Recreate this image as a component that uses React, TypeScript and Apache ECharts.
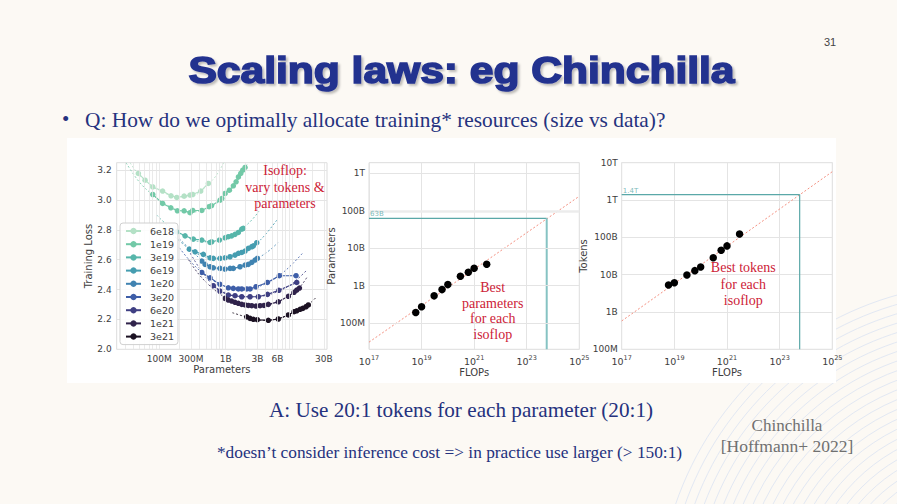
import { useEffect, useRef } from 'react';
import * as echarts from 'echarts';

const L = Math.log10;

// ---------- Left panel: isoflop curves ----------
const computeBudgets = ['6e18', '1e19', '3e19', '6e19', '1e20', '3e20', '6e20', '1e21', '3e21'];
const isoColors = ['#b4e1c6', '#72c9a7', '#57b6aa', '#459db0', '#4083b1', '#3e5ea8', '#3f3f83', '#30234b', '#1b1122'];

// [parameters (millions), training loss]
const iso6e18 = [[48.3, 3.178], [61, 3.133], [79.6, 3.088], [112, 3.06], [150, 3.028], [183, 3.017], [236, 3.026], [290, 3.033], [318, 3.037], [420, 3.06], [547, 3.111]];
const iso1e19 = [[79.6, 3.037], [112, 2.977], [149, 2.948], [187, 2.928], [236, 2.928], [290, 2.915], [318, 2.93], [436, 2.93], [561, 2.955], [610, 2.962], [822, 2.999], [871, 3.01], [977, 3.044], [1135, 3.066], [1303, 3.095], [1432, 3.122], [1552, 3.155], [1683, 3.178], [1803, 3.2], [1954, 3.218]];
const iso3e19 = [[183, 2.787], [244, 2.76], [325, 2.738], [436, 2.732], [581, 2.716], [615, 2.72], [802, 2.732], [975, 2.747], [1094, 2.754], [1230, 2.76], [1380, 2.77], [1549, 2.783], [1742, 2.805], [1841, 2.81]];
const iso6e19 = [[283, 2.671], [345, 2.653], [460, 2.636], [581, 2.613], [650, 2.609], [820, 2.609], [975, 2.613], [1161, 2.62], [1380, 2.631], [1549, 2.643], [1742, 2.649], [1954, 2.658], [2188, 2.676], [2466, 2.687], [2606, 2.693], [2931, 2.714]];
const iso1e20 = [[436, 2.591], [488, 2.569], [581, 2.553], [650, 2.546], [820, 2.542], [975, 2.537], [1161, 2.542], [1300, 2.542], [1641, 2.553], [1954, 2.564], [2188, 2.569], [2466, 2.582], [2761, 2.598], [2992, 2.609]];
const iso3e20 = [[436, 2.515], [581, 2.479], [820, 2.435], [1094, 2.412], [1300, 2.408], [1549, 2.404], [1742, 2.404], [2070, 2.404], [2323, 2.404], [2858, 2.419], [4236, 2.448], [6412, 2.493], [11460, 2.493]];
const iso6e20 = [[650, 2.426], [820, 2.39], [1094, 2.363], [1380, 2.359], [1742, 2.352], [2323, 2.352], [3097, 2.352], [4266, 2.368], [6310, 2.395], [11722, 2.448]];
const iso1e21 = [[975, 2.341], [1094, 2.33], [1230, 2.323], [1380, 2.315], [1549, 2.308], [1742, 2.301], [1954, 2.297], [2188, 2.294], [2466, 2.292], [2858, 2.29], [3289, 2.292], [3776, 2.294], [4385, 2.301], [6194, 2.318], [8770, 2.355], [10690, 2.382], [11722, 2.397], [12880, 2.41]];
const iso3e21 = [[2070, 2.218], [2323, 2.207], [2606, 2.201], [2992, 2.198], [4385, 2.194], [6194, 2.203], [8770, 2.23], [10690, 2.252], [11722, 2.258], [13150, 2.268], [14450, 2.274], [16180, 2.285], [17540, 2.297]];

// dashed parabola fits
const fit6e18 = [[36.3, 3.249], [48.3, 3.175], [79.4, 3.09], [126, 3.042], [200, 3.02], [316, 3.026], [420, 3.058], [550, 3.108], [708, 3.16], [933, 3.249]];
const fit1e19 = [[31.6, 3.249], [50.1, 3.12], [79.4, 3.035], [126, 2.97], [200, 2.93], [316, 2.92], [501, 2.94], [794, 2.99], [1259, 3.08], [1995, 3.22], [2138, 3.249]];
const fit3e19 = [[91.4, 2.899], [126, 2.84], [183, 2.787], [282, 2.745], [447, 2.72], [708, 2.722], [1122, 2.75], [1738, 2.805], [2512, 2.87], [3162, 2.925]];
const fit6e19 = [[158, 2.77], [282, 2.672], [447, 2.625], [708, 2.607], [1122, 2.618], [1778, 2.65], [2818, 2.705], [3981, 2.77], [5888, 2.866]];
const fit1e20 = [[200, 2.74], [316, 2.655], [501, 2.575], [794, 2.541], [1259, 2.541], [1995, 2.568], [3162, 2.615], [4467, 2.66], [6166, 2.716]];
const fit3e20 = [[200, 2.68], [274, 2.605], [436, 2.515], [708, 2.45], [1122, 2.415], [1778, 2.403], [2818, 2.415], [4467, 2.45], [7079, 2.51], [10000, 2.57], [14791, 2.65]];
const fit6e20 = [[275, 2.665], [407, 2.54], [631, 2.435], [1000, 2.378], [1585, 2.355], [2512, 2.352], [3981, 2.36], [6310, 2.39], [10000, 2.44], [16596, 2.53]];
const fit1e21 = [[275, 2.6], [398, 2.5], [631, 2.41], [1000, 2.345], [1585, 2.305], [2818, 2.29], [5012, 2.305], [7943, 2.345], [12589, 2.41], [16596, 2.48]];
const fit3e21 = [[1259, 2.245], [2070, 2.215], [2818, 2.198], [3981, 2.194], [6310, 2.205], [10000, 2.245], [14125, 2.28], [17540, 2.3], [23442, 2.352]];

const isoCurves = [iso6e18, iso1e19, iso3e19, iso6e19, iso1e20, iso3e20, iso6e20, iso1e21, iso3e21];
const isoFits = [fit6e18, fit1e19, fit3e19, fit6e19, fit1e20, fit3e20, fit6e20, fit1e21, fit3e21];

const sizeTickValues = [1e8, 3e8, 1e9, 3e9, 6e9, 3e10];
const sizeTickLabels = ['100M', '300M', '1B', '3B', '6B', '30B'];
const sizeMin = 2.28e7;
const sizeMax = 3.35e10;
const lossMin = 2.0;
const lossMax = 3.25;

// ---------- Middle / right panels ----------
const flopBudgets = [6e18, 1e19, 3e19, 6e19, 1e20, 3e20, 6e20, 1e21, 3e21];
const optimalParams = [1.9e8, 2.7e8, 5.3e8, 7.8e8, 1.06e9, 1.78e9, 2.28e9, 2.9e9, 3.7e9];
const optimalTokens = [5.3e9, 6.1e9, 9.8e9, 1.28e10, 1.6e10, 2.85e10, 4.5e10, 5.9e10, 1.23e11];
const paramFitLine = [[1e17, 3.06e7], [1e25, 2.45e11]];
const tokenFitLine = [[1e17, 5.75e8], [1e25, 5.75e12]];
const gopherFlops = 5.76e23;
const chinchillaParams = 6.3e10;
const chinchillaTokens = 1.4e12;
const flopTickExps = [17, 19, 21, 23, 25];
const paramTickValues = [1e8, 1e9, 1e10, 1e11, 1e12];
const paramTickLabels = ['100M', '1B', '10B', '100B', '1T'];
const tokenTickValues = [1e8, 1e9, 1e10, 1e11, 1e12, 1e13];
const tokenTickLabels = ['100M', '1B', '10B', '100B', '1T', '10T'];
const paramAxisMin = 10 ** 7.295;
const paramAxisMax = 10 ** 12.286;

const SANS = 'DejaVu Sans';
const SERIF = 'Liberation Serif';
const AXIS_TEXT = '#3d3d3d';
const GRID = '#e4e4e4';
const NAVY = '#25327e';
const RED = '#cd2237';
const TEAL = '#5aa8a8';

function lookup(vals: number[], labels: string[]) {
  return (v: number) => {
    let best = 0;
    let bd = Infinity;
    vals.forEach((x, i) => {
      const d = Math.abs(L(x) - v);
      if (d < bd) { bd = d; best = i; }
    });
    return bd < 0.01 ? labels[best] : '';
  };
}

const supRich = {
  b: { fontFamily: SANS, fontSize: 9.5, color: AXIS_TEXT, verticalAlign: 'bottom' },
  s: { fontFamily: SANS, fontSize: 6.5, color: AXIS_TEXT, verticalAlign: 'bottom', padding: [0, 0, 5, 0] },
};

function buildOption() {
  const xMinL = L(sizeMin);
  const xMaxL = L(sizeMax);
  const minorGrid: number[] = [];
  for (let d = 7; d <= 10; d++) {
    for (let k = 1; k <= 9; k++) {
      const v = L(k * 10 ** d);
      if (v > xMinL + 0.004 && v < xMaxL - 0.004) minorGrid.push(v);
    }
  }
  const toPts = (arr: number[][]) => arr.map(([p, l]) => [L(p * 1e6), l]);
  const logPts = (arr: number[][]) => arr.map(([a, b]) => [L(a), L(b)]);

  const axisLabelBase = { fontFamily: SANS, fontSize: 9, color: AXIS_TEXT };
  const nameStyle = { fontFamily: SANS, fontSize: 10, color: AXIS_TEXT };

  const gridBase = { show: true, backgroundColor: '#ffffff', borderColor: '#dcdcdc', borderWidth: 1 };

  const series: any[] = [];

  // left gridlines
  series.push({
    type: 'line', xAxisIndex: 0, yAxisIndex: 0, data: [], z: 1, silent: true,
    markLine: {
      silent: true, symbol: ['none', 'none'], label: { show: false }, animation: false,
      lineStyle: { color: GRID, width: 0.8, type: 'solid' },
      data: minorGrid.map((v) => ({ xAxis: v })),
    },
  });
  isoFits.forEach((f, i) => {
    series.push({
      name: computeBudgets[i] + ' fit', type: 'line', xAxisIndex: 0, yAxisIndex: 0,
      data: toPts(f), smooth: 0.4, showSymbol: false, silent: true, z: 2,
      lineStyle: { color: isoColors[i], width: 0.9, type: [2, 2], opacity: 0.9 },
    });
  });
  isoCurves.forEach((c, i) => {
    series.push({
      name: computeBudgets[i], type: 'line', xAxisIndex: 0, yAxisIndex: 0,
      data: toPts(c), symbol: 'circle', symbolSize: 5.5, z: 3,
      itemStyle: { color: isoColors[i], opacity: 1 },
      lineStyle: { color: isoColors[i], width: 1.1 },
    });
  });

  // middle gridlines (y)
  series.push({
    type: 'line', xAxisIndex: 1, yAxisIndex: 1, data: [], z: 1, silent: true,
    markLine: {
      silent: true, symbol: ['none', 'none'], label: { show: false }, animation: false,
      lineStyle: { color: GRID, width: 1, type: 'solid' },
      data: paramTickValues.map((v) => ({ yAxis: L(v), lineStyle: v === 1e11 ? { width: 2.5, color: '#ececec' } : undefined })),
    },
  });
  const panels = [
    { idx: 1, fit: paramFitLine, best: optimalParams, target: chinchillaParams, label: '63B', yMin: L(paramAxisMin), vWidth: 2, vColor: '#86c3c3' },
    { idx: 2, fit: tokenFitLine, best: optimalTokens, target: chinchillaTokens, label: '1.4T', yMin: L(tokenTickValues[0]), vWidth: 1.2, vColor: TEAL },
  ];
  panels.forEach((p) => {
    series.push({
      type: 'line', xAxisIndex: p.idx, yAxisIndex: p.idx, data: logPts(p.fit), showSymbol: false, silent: true, z: 2,
      lineStyle: { color: '#f39080', width: 1, type: [2, 2] },
    });
    series.push({
      type: 'line', xAxisIndex: p.idx, yAxisIndex: p.idx, showSymbol: false, silent: true, z: 2,
      data: [[flopTickExps[0], L(p.target)], [L(gopherFlops), L(p.target)]],
      lineStyle: { color: TEAL, width: 1.3 },
    });
    series.push({
      type: 'line', xAxisIndex: p.idx, yAxisIndex: p.idx, showSymbol: false, silent: true, z: 2,
      data: [[L(gopherFlops), L(p.target)], [L(gopherFlops), p.yMin]],
      lineStyle: { color: p.vColor, width: p.vWidth },
    });
    series.push({
      type: 'scatter', xAxisIndex: p.idx, yAxisIndex: p.idx, silent: true, z: 6,
      data: [[flopTickExps[0], L(p.target)]], symbolSize: 0.1, itemStyle: { color: 'rgba(0,0,0,0)' },
      label: { show: true, formatter: p.label, position: 'right', distance: 1, offset: [0, -4], fontFamily: SANS, fontSize: 7, color: TEAL },
    });
    series.push({
      type: 'scatter', xAxisIndex: p.idx, yAxisIndex: p.idx, z: 5,
      data: flopBudgets.map((f, i) => [L(f), L(p.best[i])]), symbolSize: 7.5,
      itemStyle: { color: '#000000', opacity: 1 },
    });
  });

  const flopAxis = (gi: number) => ({
    type: 'value', gridIndex: gi, min: 17, max: 25, interval: 2,
    axisLine: { show: false }, axisTick: { show: false },
    splitLine: { show: true, lineStyle: { color: GRID, width: 1 } },
    axisLabel: { margin: 5, formatter: (v: number) => `{b|10}{s|${Math.round(v)}}`, rich: supRich },
    name: 'FLOPs', nameLocation: 'middle', nameGap: 15, nameTextStyle: nameStyle,
  });

  const arcs: any[] = [];
  for (let r = 120; r <= 330; r += 9) {
    arcs.push({ type: 'circle', silent: true, z: -101, shape: { cx: 985, cy: 610, r }, style: { fill: 'none', stroke: '#e2e8f3', lineWidth: 1 } });
  }

  const txt = (text: string, x: number, y: number, style: any, scaleX = 1) => ({
    type: 'text', x, y, scaleX, silent: true, z: 50,
    style: { text, verticalAlign: 'middle', ...style },
  });

  return {
    animation: false,
    grid: [
      { ...gridBase, left: 116.7, top: 162.7, width: 210.3, height: 186.6 },
      { ...gridBase, left: 369, top: 162.7, width: 210.3, height: 186.6 },
      { ...gridBase, left: 621.7, top: 162.7, width: 210.6, height: 186.6 },
    ],
    xAxis: [
      {
        type: 'value', gridIndex: 0, min: xMinL, max: xMaxL,
        axisLine: { show: false }, axisTick: { show: false }, splitLine: { show: false },
        axisLabel: { ...axisLabelBase, margin: 5, customValues: sizeTickValues.map(L), formatter: lookup(sizeTickValues, sizeTickLabels) },
        name: 'Parameters', nameLocation: 'middle', nameGap: 14, nameTextStyle: nameStyle,
      },
      flopAxis(1),
      flopAxis(2),
    ],
    yAxis: [
      {
        type: 'value', gridIndex: 0, min: lossMin, max: lossMax, interval: 0.2,
        axisLine: { show: false }, axisTick: { show: false },
        splitLine: { show: true, lineStyle: { color: GRID, width: 1 } },
        axisLabel: {
          ...axisLabelBase, margin: 5, showMaxLabel: false,
          formatter: (v: number) => (Math.abs(v * 5 - Math.round(v * 5)) < 1e-6 ? v.toFixed(1) : ''),
        },
        name: 'Training Loss', nameLocation: 'middle', nameGap: 21, nameTextStyle: nameStyle,
      },
      {
        type: 'value', gridIndex: 1, min: L(paramAxisMin), max: L(paramAxisMax),
        axisLine: { show: false }, axisTick: { show: false }, splitLine: { show: false },
        axisLabel: { ...axisLabelBase, margin: 4, customValues: paramTickValues.map(L), formatter: lookup(paramTickValues, paramTickLabels) },
        name: 'Parameters', nameLocation: 'middle', nameGap: 31, nameTextStyle: nameStyle,
      },
      {
        type: 'value', gridIndex: 2, min: 8, max: 13, interval: 1,
        axisLine: { show: false }, axisTick: { show: false },
        splitLine: { show: true, lineStyle: { color: GRID, width: 1 } },
        axisLabel: { ...axisLabelBase, margin: 4, formatter: lookup(tokenTickValues, tokenTickLabels) },
        name: 'Tokens', nameLocation: 'middle', nameGap: 31, nameTextStyle: nameStyle,
      },
    ],
    legend: {
      data: computeBudgets, orient: 'vertical', left: 120, top: 223,
      padding: [3, 4, 3, 5], itemGap: 3.2, itemWidth: 15, itemHeight: 8,
      backgroundColor: 'rgba(255,255,255,0.88)', borderColor: '#d0d0d0', borderWidth: 1, borderRadius: 3,
      textStyle: { fontFamily: SANS, fontSize: 9.5, color: AXIS_TEXT, lineHeight: 10, padding: [0, 0, 0, 4] },
      selectedMode: false, z: 10,
    },
    graphic: [
      ...arcs,
      { type: 'rect', silent: true, z: -100, shape: { x: 67, y: 138, width: 769, height: 245 }, style: { fill: '#ffffff' } },
      {
        type: 'text', x: 461.5, y: 70, scaleX: 1.15, silent: true, z: 50,
        style: {
          text: 'Scaling laws: eg Chinchilla', fontFamily: 'Liberation Sans', fontWeight: 'bold', fontSize: 37,
          fill: '#22318f', stroke: '#22318f', lineWidth: 1.6, align: 'center', verticalAlign: 'middle',
          textShadowColor: 'rgba(0,0,0,0.25)', textShadowOffsetX: 2, textShadowOffsetY: 2, textShadowBlur: 2,
        },
      },
      txt('31', 830, 42, { fontFamily: 'Liberation Sans', fontSize: 11, fill: '#444', align: 'center' }),
      txt('•', 62, 119, { fontFamily: SERIF, fontSize: 21, fill: NAVY, align: 'left' }),
      txt('Q: How do we optimally allocate training* resources (size vs data)?', 85, 120, { fontFamily: SERIF, fontSize: 20.5, fill: NAVY, align: 'left' }, 1.043),
      txt('Isoflop:\nvary tokens &\nparameters', 285, 187, { fontFamily: SERIF, fontSize: 14, lineHeight: 16.3, fill: RED, align: 'center' }),
      txt('Best\nparameters\nfor each\nisoflop', 492.7, 311, { fontFamily: SERIF, fontSize: 14, lineHeight: 15.9, fill: RED, align: 'center' }),
      txt('Best tokens\nfor each\nisoflop', 743.3, 284, { fontFamily: SERIF, fontSize: 14, lineHeight: 16.2, fill: RED, align: 'center' }),
      txt('A: Use 20:1 tokens for each parameter (20:1)', 461, 410, { fontFamily: SERIF, fontSize: 20, fill: NAVY, align: 'center' }, 1.06),
      txt('*doesn’t consider inference cost => in practice use larger (> 150:1)', 449.5, 453, { fontFamily: SERIF, fontSize: 16.5, fill: NAVY, align: 'center' }, 1.05),
      txt('Chinchilla', 787, 425, { fontFamily: SERIF, fontSize: 17, fill: '#707070', align: 'center' }),
      txt('[Hoffmann+ 2022]', 787, 447, { fontFamily: SERIF, fontSize: 17, fill: '#707070', align: 'center' }, 1.03),
    ],
    series,
  };
}

export default function App() {
  const ref = useRef<HTMLDivElement>(null);
  useEffect(() => {
    if (!ref.current) return;
    document.body.style.margin = '0';
    const chart = echarts.init(ref.current, undefined, { renderer: 'svg' });
    chart.setOption(buildOption() as any);
    return () => chart.dispose();
  }, []);
  return (
    <div
      ref={ref}
      style={{ position: 'absolute', left: 0, top: 0, width: 897, height: 504, background: '#fcf9f4' }}
    />
  );
}
